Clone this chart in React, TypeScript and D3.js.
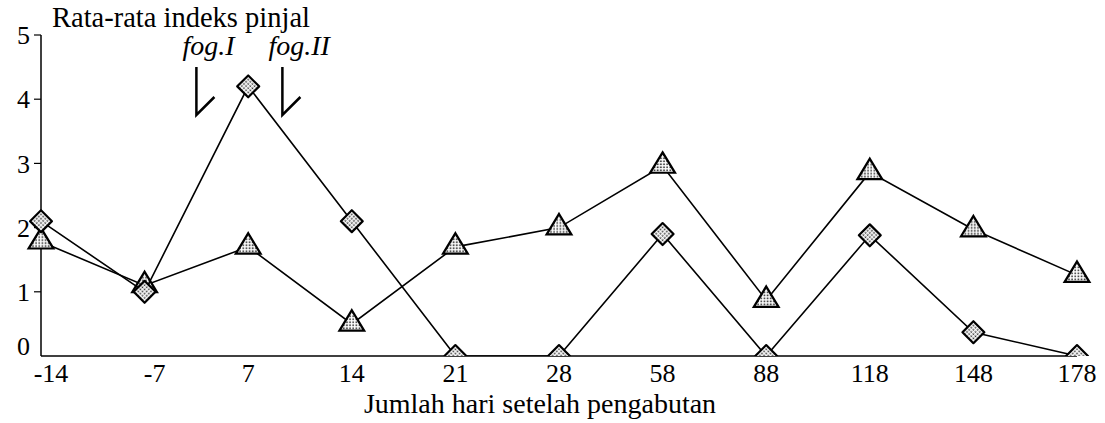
import { useEffect, useRef } from "react";
import * as d3 from "d3";

// hari setelah pengabutan (kategori sumbu x)
const days = ["-14", "-7", "7", "14", "21", "28", "58", "88", "118", "148", "178"];
// seri berlian (puncak setelah fog I)
const diamondValues = [2.1, 1.0, 4.2, 2.1, 0, 0, 1.9, 0, 1.88, 0.37, 0];
// seri segitiga
const triangleValues = [1.78, 1.1, 1.7, 0.5, 1.7, 2.0, 2.96, 0.87, 2.86, 1.97, 1.26];
const yTicks = [0, 1, 2, 3, 4, 5];
// posisi anotasi pengabutan, dalam indeks kategori
const fogMarks = [
  { label: "fog.I", at: 1.5 },
  { label: "fog.II", at: 2.33 },
];

const W = 1105;
const H = 423;
const FONT = "'Liberation Serif', 'Times New Roman', serif";

export default function App() {
  const svgRef = useRef<SVGSVGElement | null>(null);

  useEffect(() => {
    if (!svgRef.current) return;
    const svg = d3.select(svgRef.current);
    svg.selectAll("*").remove();

    const margin = { top: 35, left: 41, right: 28, bottom: 67 };
    const x = d3
      .scalePoint<string>()
      .domain(days)
      .range([margin.left, W - margin.right]);
    const y = d3
      .scaleLinear()
      .domain([0, 5])
      .range([H - margin.bottom, margin.top]);

    const defs = svg.append("defs");
    const pat = defs
      .append("pattern")
      .attr("id", "dots")
      .attr("patternUnits", "userSpaceOnUse")
      .attr("width", 3)
      .attr("height", 3);
    pat.append("rect").attr("width", 3).attr("height", 3).attr("fill", "#fff");
    pat
      .append("rect")
      .attr("x", 0.5)
      .attr("y", 0.5)
      .attr("width", 1.6)
      .attr("height", 1.6)
      .attr("fill", "#333");

    defs
      .append("clipPath")
      .attr("id", "plotClip")
      .append("rect")
      .attr("x", 0)
      .attr("y", 0)
      .attr("width", W)
      .attr("height", y(0));

    // sumbu
    svg
      .append("line")
      .attr("x1", x(days[0])!)
      .attr("x2", x(days[0])!)
      .attr("y1", y(5))
      .attr("y2", y(0))
      .attr("stroke", "#000")
      .attr("stroke-width", 1.5);
    svg
      .append("line")
      .attr("x1", x(days[0])!)
      .attr("x2", x(days[days.length - 1])!)
      .attr("y1", y(0))
      .attr("y2", y(0))
      .attr("stroke", "#000")
      .attr("stroke-width", 1.5);

    const yt = svg.append("g").attr("font-family", FONT).attr("font-size", 26);
    yt.selectAll("line")
      .data(yTicks.filter((d) => d > 0))
      .enter()
      .append("line")
      .attr("x1", margin.left - 7)
      .attr("x2", margin.left)
      .attr("y1", (d) => y(d))
      .attr("y2", (d) => y(d))
      .attr("stroke", "#000")
      .attr("stroke-width", 1.2);
    yt.selectAll("text")
      .data(yTicks)
      .enter()
      .append("text")
      .attr("x", 30)
      .attr("y", (d) => y(d) + (d === 0 ? -10 : 0))
      .attr("dy", "0.35em")
      .attr("text-anchor", "end")
      .text((d) => d);

    // label sumbu x
    svg
      .append("g")
      .attr("font-family", FONT)
      .attr("font-size", 26)
      .selectAll("text")
      .data(days)
      .enter()
      .append("text")
      .attr("x", (d) => x(d)! + (d.startsWith("-") ? 10 : 0))
      .attr("y", 382)
      .attr("text-anchor", "middle")
      .text((d) => d);

    svg
      .append("text")
      .attr("x", 540)
      .attr("y", 413)
      .attr("text-anchor", "middle")
      .attr("font-family", FONT)
      .attr("font-size", 28)
      .text("Jumlah hari setelah pengabutan");

    svg
      .append("text")
      .attr("x", 52)
      .attr("y", 27)
      .attr("font-family", FONT)
      .attr("font-size", 28.5)
      .text("Rata-rata indeks pinjal");

    // anotasi fog
    const step = x.step();
    const fog = svg.append("g");
    fogMarks.forEach((f) => {
      const fx = margin.left + f.at * step;
      fog
        .append("text")
        .attr("x", fx - 14)
        .attr("y", 55)
        .attr("font-family", FONT)
        .attr("font-style", "italic")
        .attr("font-size", 28)
        .text(f.label);
      fog
        .append("path")
        .attr("d", `M${fx},67 L${fx},115 L${fx + 18},97`)
        .attr("fill", "none")
        .attr("stroke", "#000")
        .attr("stroke-width", 2.5);
    });

    const line = d3
      .line<number>()
      .x((_, i) => x(days[i])!)
      .y((d) => y(d));

    const marks = svg.append("g").attr("clip-path", "url(#plotClip)");

    // seri segitiga
    marks
      .append("path")
      .datum(triangleValues)
      .attr("d", line)
      .attr("fill", "none")
      .attr("stroke", "#000")
      .attr("stroke-width", 1.6);
    const tri = d3.symbol().type(d3.symbolTriangle).size(240);
    marks
      .selectAll(".tri")
      .data(triangleValues)
      .enter()
      .append("path")
      .attr("class", "tri")
      .attr("d", tri)
      .attr("transform", (d, i) => `translate(${x(days[i])},${y(d)}) scale(1.05,1)`)
      .attr("fill", "url(#dots)")
      .attr("stroke", "#000")
      .attr("stroke-width", 2.2);

    // seri berlian
    marks
      .append("path")
      .datum(diamondValues)
      .attr("d", line)
      .attr("fill", "none")
      .attr("stroke", "#000")
      .attr("stroke-width", 1.6);
    const dia = d3.symbol().type(d3.symbolSquare).size(240);
    marks
      .selectAll(".dia")
      .data(diamondValues)
      .enter()
      .append("path")
      .attr("class", "dia")
      .attr("d", dia)
      .attr("transform", (d, i) => `translate(${x(days[i])},${y(d)}) rotate(45)`)
      .attr("fill", "url(#dots)")
      .attr("stroke", "#000")
      .attr("stroke-width", 2.2)
      .attr("stroke-linejoin", "round");
  }, []);

  return (
    <svg
      ref={svgRef}
      width={W}
      height={H}
      style={{ position: "absolute", left: 0, top: 0, background: "#fff" }}
    />
  );
}
